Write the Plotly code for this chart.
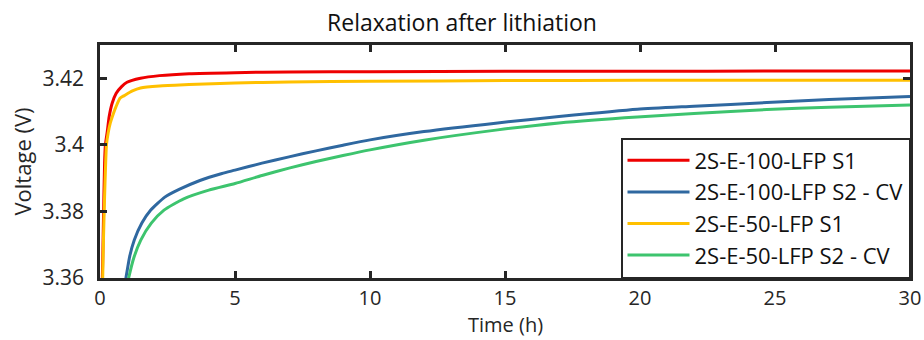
import plotly.graph_objects as go

# Open-circuit relaxation after lithiation, time in hours, voltage in volts
t_e100_s1 = [0.06, 0.10, 0.12, 0.17, 0.20, 0.27, 0.34, 0.45, 0.60, 0.80, 1.0, 1.5,
             2.2, 3.3, 5.0, 7.0, 10.0, 15.0, 20.0, 25.0, 30.0]
v_e100_s1 = [3.350, 3.365, 3.374, 3.3945, 3.400, 3.404, 3.4085, 3.4125, 3.4155, 3.4175,
             3.4188, 3.4200, 3.4208, 3.4214, 3.4217, 3.4219, 3.4220, 3.4221, 3.4221,
             3.4222, 3.4222]

t_e100_s2 = [0.92, 0.96, 1.10, 1.27, 1.55, 1.88, 2.40, 2.93, 3.70, 4.52, 5.0, 6.0,
             7.0, 8.0, 9.0, 10.0, 12.0, 14.73, 17.0, 19.9, 22.0, 24.7, 27.0, 30.0]
v_e100_s2 = [3.3585, 3.3600, 3.3665, 3.3714, 3.3765, 3.3804, 3.3843, 3.3866, 3.3893,
             3.3914, 3.3924, 3.3945, 3.3964, 3.3982, 3.3999, 3.4015, 3.4040, 3.4066,
             3.4085, 3.4107, 3.4116, 3.4127, 3.4136, 3.4145]

t_e50_s1 = [0.08, 0.10, 0.13, 0.17, 0.24, 0.30, 0.38, 0.50, 0.59, 0.74, 0.90, 1.2,
            1.5, 2.2, 3.3, 5.0, 7.0, 10.0, 15.0, 20.0, 25.0, 30.0]
v_e50_s1 = [3.350, 3.360, 3.372, 3.3844, 3.400, 3.4035, 3.4065, 3.4095, 3.4114, 3.4140,
            3.4148, 3.4162, 3.4171, 3.4177, 3.4181, 3.4186, 3.4189, 3.4191, 3.4193,
            3.4194, 3.4194, 3.4194]

t_e50_s2 = [1.02, 1.06, 1.25, 1.51, 1.90, 2.37, 3.10, 4.03, 5.0, 6.0, 7.0, 8.0, 9.0,
            10.0, 12.0, 14.73, 17.0, 19.9, 22.0, 24.7, 27.0, 30.0]
v_e50_s2 = [3.3585, 3.3600, 3.3660, 3.3714, 3.3765, 3.3804, 3.3838, 3.3864, 3.3884,
            3.3908, 3.3930, 3.3950, 3.3968, 3.3985, 3.4014, 3.4045, 3.4066, 3.4084,
            3.4094, 3.4106, 3.4113, 3.4120]

series_names = ["2S-E-100-LFP S1", "2S-E-100-LFP S2 - CV",
                "2S-E-50-LFP S1", "2S-E-50-LFP S2 - CV"]
series_colors = ["#EE0000", "#2F68A0", "#FFC000", "#3DC46E"]
series_t = [t_e100_s1, t_e100_s2, t_e50_s1, t_e50_s2]
series_v = [v_e100_s1, v_e100_s2, v_e50_s1, v_e50_s2]

x_ticks = [0, 5, 10, 15, 20, 25, 30]
y_ticks = [3.36, 3.38, 3.40, 3.42]
y_tick_labels = ["3.36", "3.38", "3.4", "3.42"]

FONT = "Open Sans"
INK = "#262626"

fig = go.Figure()
for name, color, t, v in zip(series_names, series_colors, series_t, series_v):
    fig.add_trace(go.Scatter(
        x=t, y=v, mode="lines", name=name,
        line=dict(color=color, width=3, shape="spline", smoothing=0.6),
    ))

axis_common = dict(
    automargin=False,
    showgrid=False, zeroline=False, showline=True, linecolor=INK, linewidth=2.5,
    mirror="ticks", ticks="inside", ticklen=7, tickwidth=2.5, tickcolor=INK,
)

fig.update_layout(
    template="none",
    width=924, height=340,
    margin=dict(l=100, r=14, t=45, b=62, autoexpand=False),
    paper_bgcolor="white", plot_bgcolor="white",
    title=dict(text="Relaxation after lithiation", x=0.5, xanchor="center",
               y=0.932, yanchor="middle",
               font=dict(family=FONT, size=23, color="#111111")),
    xaxis=dict(range=[0, 30], tickvals=x_ticks, ticklabelstandoff=0,
               tickfont=dict(family=FONT, size=20, color=INK),
               **axis_common),
    yaxis=dict(range=[3.36, 3.43], tickvals=y_ticks, ticktext=y_tick_labels,
               ticklabelstandoff=9,
               tickfont=dict(family=FONT, size=21, color=INK),
               title=dict(text="Voltage (V)", font=dict(family=FONT, size=22, color=INK),
                          standoff=5),
               **axis_common),
    legend=dict(x=1, y=0, xanchor="right", yanchor="bottom",
                bgcolor="white", bordercolor=INK, borderwidth=1.5,
                font=dict(family=FONT, size=22, color="#111111"),
                itemwidth=62),
    showlegend=True,
)

# x-axis title placed just under the tick labels, kept inside the page
fig.add_annotation(
    text="Time (h)", xref="paper", yref="paper", x=0.5, y=-0.2618,
    xanchor="center", yanchor="bottom", showarrow=False, borderpad=0,
    font=dict(family=FONT, size=20, color=INK),
)

fig.write_html("out.html")
